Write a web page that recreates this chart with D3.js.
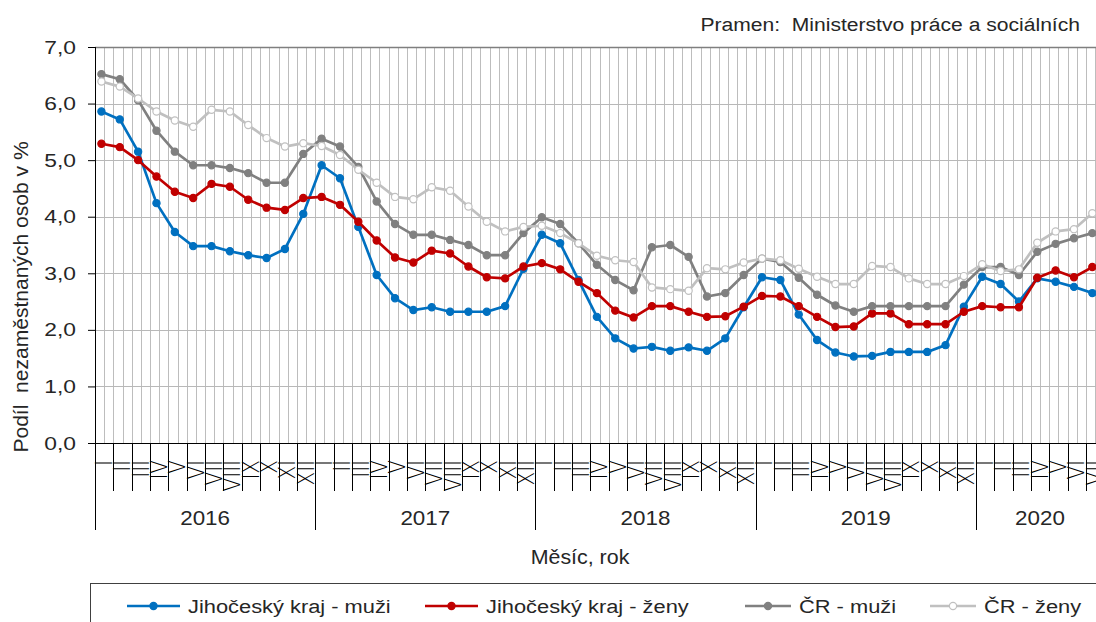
<!DOCTYPE html>
<html><head><meta charset="utf-8">
<script src="https://cdn.jsdelivr.net/npm/d3@7"></script>
<style>
body{margin:0;background:#fff}
svg{display:block}
text{font-family:"Liberation Sans",Arial,sans-serif;fill:#262626;white-space:pre}
</style>
</head><body>
<svg id="c" width="1096" height="622"></svg>
<script>
// ---- data ----
const years = ["2016", "2017", "2018", "2019", "2020"];
const monthLabels = ["I","II","III","IV","V","VI","VII","VIII","IX","X","XI","XII"];
const yTicks = [0, 1, 2, 3, 4, 5, 6, 7];
const seriesNames = ["Jihočeský kraj - muži", "Jihočeský kraj - ženy", "ČR - muži", "ČR - ženy"];
const jcMuzi = [
  5.86, 5.72, 5.15, 4.24, 3.73, 3.48, 3.48, 3.39, 3.32, 3.27, 3.43, 4.05,
  4.91, 4.68, 3.82, 2.97, 2.56, 2.35, 2.40, 2.32, 2.32, 2.32, 2.42, 3.08,
  3.68, 3.53, 2.88, 2.23, 1.85, 1.67, 1.70, 1.63, 1.69, 1.63, 1.85, 2.40,
  2.93, 2.88, 2.27, 1.82, 1.60, 1.53, 1.54, 1.61, 1.61, 1.61, 1.73, 2.41,
  2.94, 2.81, 2.50, 2.91, 2.85, 2.76, 2.65
];
const jcZeny = [
  5.29, 5.23, 5.00, 4.71, 4.44, 4.33, 4.58, 4.53, 4.30, 4.16, 4.12, 4.33,
  4.35, 4.21, 3.91, 3.58, 3.28, 3.19, 3.40, 3.35, 3.12, 2.93, 2.91, 3.12,
  3.18, 3.07, 2.85, 2.65, 2.34, 2.22, 2.42, 2.42, 2.32, 2.23, 2.24, 2.41,
  2.60, 2.59, 2.42, 2.23, 2.05, 2.06, 2.29, 2.29, 2.10, 2.10, 2.10, 2.32,
  2.42, 2.40, 2.40, 2.92, 3.05, 2.93, 3.11
];
const crMuzi = [
  6.52, 6.43, 6.06, 5.52, 5.15, 4.91, 4.91, 4.86, 4.77, 4.60, 4.60, 5.11,
  5.38, 5.24, 4.88, 4.27, 3.87, 3.68, 3.68, 3.59, 3.50, 3.32, 3.32, 3.71,
  3.99, 3.87, 3.53, 3.15, 2.88, 2.70, 3.46, 3.50, 3.29, 2.59, 2.65, 2.97,
  3.26, 3.20, 2.92, 2.62, 2.43, 2.32, 2.42, 2.42, 2.42, 2.42, 2.42, 2.80,
  3.11, 3.11, 2.97, 3.38, 3.52, 3.62, 3.71
];
const crZeny = [
  6.39, 6.30, 6.09, 5.86, 5.70, 5.59, 5.89, 5.86, 5.62, 5.39, 5.24, 5.30,
  5.25, 5.09, 4.83, 4.60, 4.35, 4.31, 4.52, 4.46, 4.18, 3.91, 3.74, 3.82,
  3.84, 3.71, 3.53, 3.31, 3.23, 3.20, 2.75, 2.72, 2.69, 3.09, 3.07, 3.19,
  3.26, 3.23, 3.08, 2.94, 2.81, 2.81, 3.13, 3.11, 2.91, 2.81, 2.81, 2.95,
  3.16, 3.04, 3.07, 3.54, 3.74, 3.78, 4.06
];

// ---- styles ----
const seriesData = [jcMuzi, jcZeny, crMuzi, crZeny];
const seriesColor = ["#0070c0", "#c00000", "#808080", "#c0c0c0"];
const seriesMarkerFill = ["#0070c0", "#c00000", "#808080", "#ffffff"];

const W = 1096, H = 622;
const pLeft = 95, pTop = 47, pBottom = 443, step = 18.35;
const n = jcMuzi.length;
const svg = d3.select("#c");

const x = d3.scaleLinear().domain([0, n]).range([pLeft, pLeft + n * step]);
const y = d3.scaleLinear().domain([0, 7]).range([pBottom, pTop]);
const px = i => x(i + 0.35);

function addText(parent, tx, ty, str, size, anchor, sx, rot) {
  return parent.append("text")
    .attr("transform", `translate(${tx},${ty})` + (rot ? ` rotate(${rot})` : "") + ` scale(${sx},1)`)
    .attr("text-anchor", anchor)
    .style("font-size", size + "px")
    .text(str);
}

// vertical grid (half-month)
const vg = [];
for (let k = 1; x(k * 0.5) < W; k++) vg.push(k * 0.5);
svg.append("g").selectAll("line").data(vg).join("line")
  .attr("x1", d => Math.round(x(d)) + 0.5).attr("x2", d => Math.round(x(d)) + 0.5)
  .attr("y1", pTop).attr("y2", pBottom)
  .attr("stroke", "#bdbdbd").attr("stroke-width", 1);

// horizontal grid
svg.append("g").selectAll("line").data(yTicks.filter(d => d > 0 && d < 7)).join("line")
  .attr("x1", pLeft).attr("x2", W)
  .attr("y1", d => Math.round(y(d)) + 0.5).attr("y2", d => Math.round(y(d)) + 0.5)
  .attr("stroke", "#b8b8b8").attr("stroke-width", 1);
// top border
svg.append("line").attr("x1", pLeft).attr("x2", W)
  .attr("y1", Math.round(y(7)) + 0.5).attr("y2", Math.round(y(7)) + 0.5)
  .attr("stroke", "#7f7f7f").attr("stroke-width", 1.5);

// y axis
const ya = svg.append("g").attr("transform", `translate(${pLeft},0)`)
  .call(d3.axisLeft(y).tickValues(yTicks).tickSize(7).tickPadding(12)
    .tickFormat(d => d.toFixed(1).replace(".", ",")));
ya.select(".domain").remove();
ya.selectAll(".tick line").attr("stroke", "#000");
ya.selectAll(".tick text")
  .attr("x", -19 / 1.2).attr("transform", "scale(1.2,1)")
  .style("font-size", "19px").style("fill", "#262626")
  .style("font-family", '"Liberation Sans", Arial, sans-serif');
svg.append("line").attr("x1", pLeft + 0.5).attr("x2", pLeft + 0.5).attr("y1", pTop).attr("y2", pBottom)
  .attr("stroke", "#000");

// x axis line
svg.append("line").attr("x1", pLeft).attr("x2", W).attr("y1", pBottom + 0.5).attr("y2", pBottom + 0.5)
  .attr("stroke", "#000");

// month ticks & year ticks
const ticks = d3.range(0, n + 1);
svg.append("g").selectAll("line").data(ticks).join("line")
  .attr("x1", d => Math.round(x(d)) + 0.5).attr("x2", d => Math.round(x(d)) + 0.5)
  .attr("y1", pBottom).attr("y2", d => (d % 12 === 0 ? 530 : 491))
  .attr("stroke", "#000");

// month labels (rotated roman numerals)
svg.append("g").selectAll("text").data(d3.range(n)).join("text")
  .attr("transform", d => `translate(${x(d + 1) - 1.5},460) rotate(-90) scale(1,1.15)`)
  .attr("text-anchor", "end")
  .style("font-family", '"DejaVu Sans", sans-serif')
  .style("font-weight", 200)
  .style("font-size", "20px").style("fill", "#000")
  .text(d => monthLabels[d % 12]);

// year labels
const yl = svg.append("g");
years.forEach((d, j) => {
  addText(yl, (x(12 * j) + x(Math.min(12 * (j + 1), n))) / 2, 525, d, 20, "middle", 1.12);
});

// axis titles
addText(svg, 580, 564, "Měsíc, rok", 20, "middle", 1.07);
addText(svg, 28, 297, "Podíl  nezaměstnaných osob v %", 19.5, "middle", 1.08, -90);
addText(svg, 1080, 31, "Pramen:  Ministerstvo práce a sociálních", 19, "end", 1.11);

// series
const line = d3.line().x((d, i) => px(i)).y(d => y(d));
seriesData.forEach((data, s) => {
  const g = svg.append("g");
  g.append("path").datum(data).attr("d", line)
    .attr("fill", "none").attr("stroke", seriesColor[s]).attr("stroke-width", 2.7)
    .attr("stroke-linejoin", "round");
  g.selectAll("circle").data(data).join("circle")
    .attr("cx", (d, i) => px(i)).attr("cy", d => y(d)).attr("r", 3.6)
    .attr("fill", seriesMarkerFill[s]).attr("stroke", seriesColor[s]).attr("stroke-width", 1.2);
});

// legend
svg.append("rect").attr("x", 90.5).attr("y", 583.5).attr("width", 1100).attr("height", 80)
  .attr("fill", "none").attr("stroke", "#404040").attr("stroke-width", 1);
const legX = [127, 425, 745, 930];
const legLen = [53, 53, 46, 46];
const ly = 606;
seriesNames.forEach((name, s) => {
  const g = svg.append("g");
  g.append("line").attr("x1", legX[s]).attr("x2", legX[s] + legLen[s]).attr("y1", ly).attr("y2", ly)
    .attr("stroke", seriesColor[s]).attr("stroke-width", 2.7);
  g.append("circle").attr("cx", legX[s] + legLen[s] / 2).attr("cy", ly).attr("r", 3.6)
    .attr("fill", seriesMarkerFill[s]).attr("stroke", seriesColor[s]).attr("stroke-width", 1.2);
  addText(g, legX[s] + legLen[s] + 8, ly + 7, name, 19, "start", 1.15);
});
</script>
</body></html>
